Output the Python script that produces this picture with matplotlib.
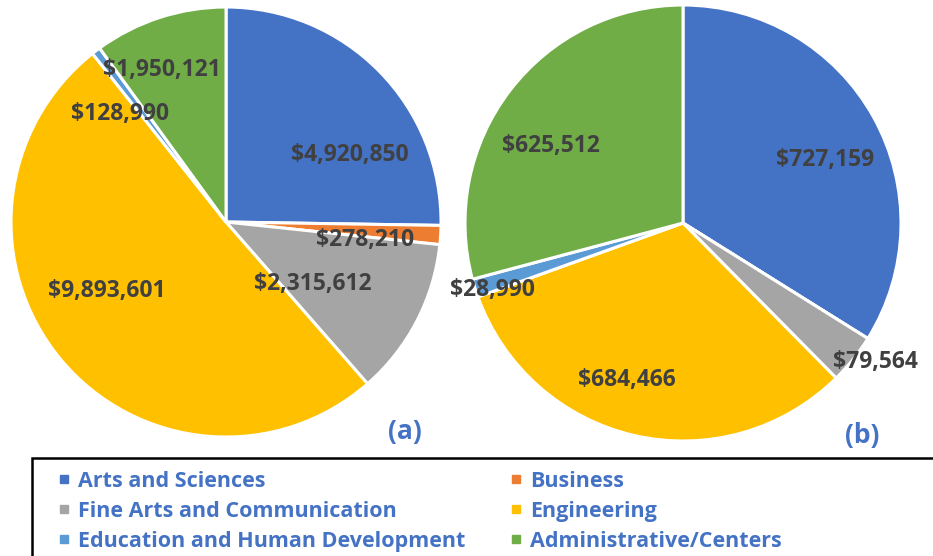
import matplotlib
matplotlib.use('Agg')
import matplotlib.pyplot as plt
from matplotlib.lines import Line2D
from matplotlib.patches import Rectangle

FONT = ['Open Sans', 'DejaVu Sans']
plt.rcParams['font.family'] = FONT
plt.rcParams['font.weight'] = 'bold'

categories = ['Arts and Sciences', 'Business', 'Fine Arts and Communication',
              'Engineering', 'Education and Human Development', 'Administrative/Centers']
colors = ['#4472C4', '#ED7D31', '#A5A5A5', '#FFC000', '#5B9BD5', '#70AD47']

values_a = [4920850, 278210, 2315612, 9893601, 128990, 1950121]
values_b = [727159, 0, 79564, 684466, 28990, 625512]

# label positions in units of the pie radius (Excel "best fit" placement)
label_pos_a = [(0.577, 0.312), (0.647, -0.084), (0.405, -0.288),
               (-0.553, -0.321), (-0.493, 0.502), (-0.298, 0.707)]
label_pos_b = [(0.651, 0.289), None, (0.881, -0.638),
               (-0.257, -0.720), (-0.876, -0.307), (-0.606, 0.353)]

label_color = '#404040'
blue_text = '#4472C4'


def draw_pie(ax, values, positions):
    ax.pie(values, colors=colors, startangle=90, counterclock=False, radius=1,
           wedgeprops=dict(edgecolor='white', linewidth=2.2))
    for v, pos in zip(values, positions):
        if v == 0 or pos is None:
            continue
        ax.text(pos[0], pos[1], f'${v:,}', ha='center', va='center',
                fontsize=16.5, fontweight='bold', color=label_color)
    ax.set_xlim(-1, 1)
    ax.set_ylim(-1, 1)
    ax.set_aspect('equal')
    ax.axis('off')


fig = plt.figure(figsize=(9.33, 5.56), dpi=100)
ax_a = fig.add_axes([0.0118, 0.214, 0.4609, 0.7734])
ax_b = fig.add_axes([0.4984, 0.2068, 0.4673, 0.7842])
draw_pie(ax_a, values_a, label_pos_a)
draw_pie(ax_b, values_b, label_pos_b)

fig.text(405 / 933, 1 - 432 / 556, '(a)', ha='center', va='center',
         fontsize=19, fontweight='bold', color=blue_text)
fig.text(862 / 933, 1 - 436 / 556, '(b)', ha='center', va='center',
         fontsize=19, fontweight='bold', color=blue_text)

# legend box, runs off the right and bottom edges
fig.patches.append(Rectangle((32 / 933, -0.05), 1.0, 0.05 + 98 / 556,
                             transform=fig.transFigure, fill=False,
                             edgecolor='black', linewidth=1.8, clip_on=False))

# legend fills rows in the reference, matplotlib fills columns
order = [0, 2, 4, 1, 3, 5]
handles = [Line2D([], [], marker='s', linestyle='none', markersize=5.5,
                  markerfacecolor=colors[i], markeredgecolor=colors[i]) for i in order]
labels = [categories[i] for i in order]
leg = fig.legend(handles, labels, ncol=2, loc='upper left',
                 bbox_to_anchor=(48 / 933, 1 - 460 / 556), frameon=False,
                 prop=dict(family=FONT, weight='bold', size=15.5),
                 handlelength=0.5, handletextpad=0.4, columnspacing=2.1,
                 labelspacing=0.42, borderpad=0)
for t in leg.get_texts():
    t.set_color(blue_text)

fig.savefig('out.png', dpi=100)
